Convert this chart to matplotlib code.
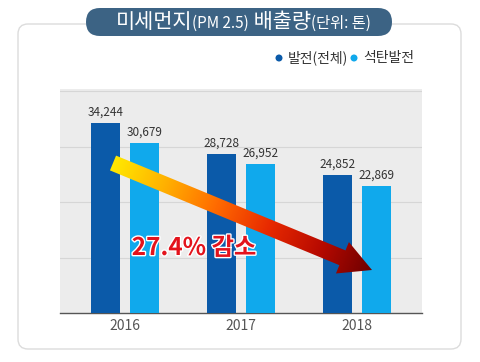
import numpy as np
import matplotlib
matplotlib.use("Agg")
import matplotlib.pyplot as plt
from matplotlib.patches import FancyBboxPatch, Polygon, Circle
from matplotlib.colors import LinearSegmentedColormap
import matplotlib.patheffects as pe

plt.rcParams['font.family'] = ['Noto Sans CJK KR', 'DejaVu Sans']

years = ["2016", "2017", "2018"]
total = [34244, 28728, 24852]
coal = [30679, 26952, 22869]
series_names = ["발전(전체)", "석탄발전"]
title_parts = [("미세먼지", 15), ("(PM 2.5)", 11), (" 배출량", 15), ("(단위: 톤)", 11)]
decrease_label = "27.4% 감소"

dark = "#0b5aa9"
light = "#10a9ec"

fig = plt.figure(figsize=(4.8, 3.62), dpi=100)
fig.patch.set_facecolor("white")

# background card
bg = fig.add_axes([0, 0, 1, 1], zorder=0)
bg.set_xlim(0, 480); bg.set_ylim(362, 0); bg.axis("off")
card = FancyBboxPatch((18, 24), 443, 325, boxstyle="round,pad=0,rounding_size=10",
                      fc="white", ec="#dcdcdc", lw=1.0)
bg.add_patch(card)

ax = fig.add_axes([60/480, 49/362, 362/480, 224/362], zorder=1)
ax.set_facecolor("#ececec")
x = np.arange(len(years))
w = 0.245
off = 0.168
b1 = ax.bar(x - off, total, w, color=dark, zorder=3)
b2 = ax.bar(x + off, coal, w, color=light, zorder=3)
ax.set_xlim(-0.56, 2.56)
ax.set_ylim(0, 40400)
ax.set_yticks([10000, 20000, 30000, 40000])
ax.yaxis.grid(True, color="#d6d6d6", lw=0.8, zorder=0)
ax.tick_params(axis="y", left=False, labelleft=False)
ax.tick_params(axis="x", length=0, pad=4, labelsize=10, labelcolor="#555555")
ax.set_xticks(x)
ax.set_xticklabels(years)
for s in ["top", "right", "left"]:
    ax.spines[s].set_visible(False)
ax.spines["bottom"].set_color("#555555")
ax.spines["bottom"].set_linewidth(1.0)
for bars, vals in ((b1, total), (b2, coal)):
    for r, v in zip(bars, vals):
        ax.annotate(f"{v:,}", (r.get_x() + r.get_width()/2, v), xytext=(0, 3),
                    textcoords="offset points", ha="center", va="bottom",
                    fontsize=8.5, color="#333333", zorder=5)

# overlay for title, legend, arrow
ov = fig.add_axes([0, 0, 1, 1], zorder=2)
ov.set_xlim(0, 480); ov.set_ylim(362, 0); ov.axis("off")

pill = FancyBboxPatch((86, 8), 306, 28, boxstyle="round,pad=0,rounding_size=14",
                      fc="#3c6384", ec="none")
ov.add_patch(pill)

fig.canvas.draw()
r = fig.canvas.get_renderer()
texts = []
xcur = 0.0
for s, fs in title_parts:
    t = ov.text(xcur, 22 if fs > 12 else 23, s, fontsize=fs, color="white", va="center", ha="left")
    bb = t.get_window_extent(r)
    xcur = ov.transData.inverted().transform((bb.x1, 0))[0]
    texts.append(t)
total_w = xcur
shift = 243 - total_w / 2
for t in texts:
    px, py = t.get_position()
    t.set_position((px + shift, py))

# legend
ov.add_patch(Circle((279, 58), 3.5, fc=dark, ec="none"))
ov.text(288, 58, series_names[0], fontsize=10, color="#333333", va="center", ha="left")
ov.add_patch(Circle((354, 58), 3.5, fc=light, ec="none"))
ov.text(363, 58, series_names[1], fontsize=10, color="#333333", va="center", ha="left")

# gradient arrow
start = np.array([113.0, 163.0])
tip = np.array([372.0, 270.0])
u = (tip - start) / np.linalg.norm(tip - start)
n = np.array([-u[1], u[0]])
hw, hhw, hl = 8, 17, 32
neck = tip - u * hl
pts = [start + n*hw, neck + n*hw, neck + n*hhw, tip, neck - n*hhw, neck - n*hw, start - n*hw]
poly = Polygon(pts, closed=True, fc="none", ec="none")
ov.add_patch(poly)
cmap = LinearSegmentedColormap.from_list("g", ["#ffe800", "#ffb000", "#ff6a00", "#e82a00", "#b80a00", "#6e0000"])
xs = np.linspace(95, 395, 300)
ys = np.linspace(140, 295, 160)
XX, YY = np.meshgrid(xs, ys)
L = np.linalg.norm(tip - start)
T = ((XX - start[0]) * u[0] + (YY - start[1]) * u[1]) / L
im = ov.imshow(np.clip(T, 0, 1), cmap=cmap, extent=(95, 395, 295, 140), origin="upper",
               aspect="auto", interpolation="bilinear", vmin=0, vmax=1)
im.set_clip_path(poly)
ov.set_xlim(0, 480); ov.set_ylim(362, 0)

ov.text(194, 248, decrease_label, fontsize=17.5, fontweight="bold", color="#e3131c",
        ha="center", va="center",
        path_effects=[pe.withStroke(linewidth=2.0, foreground="white")])

fig.savefig("out.png", dpi=100, facecolor="white")
